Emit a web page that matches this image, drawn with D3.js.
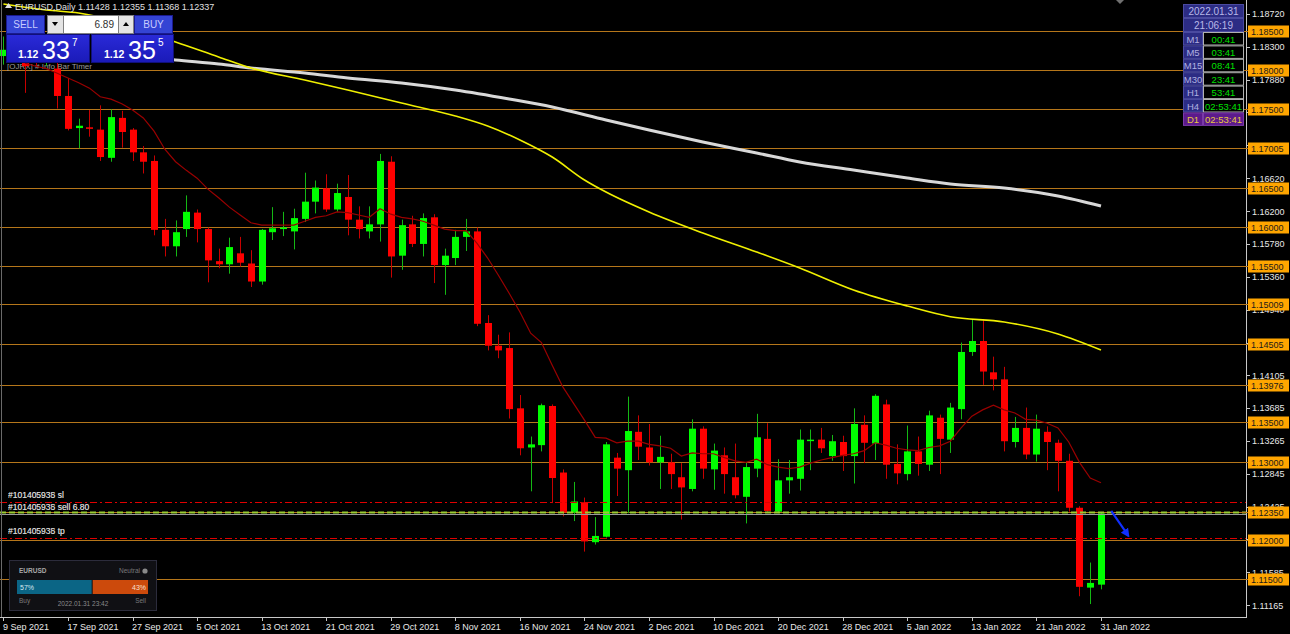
<!DOCTYPE html>
<html><head><meta charset="utf-8">
<script src="https://cdn.jsdelivr.net/npm/d3@7"></script>
<style>
body{margin:0;background:#000;overflow:hidden}
svg{display:block}
text{font-family:"Liberation Sans",Arial,sans-serif}
</style></head>
<body><svg id="c" width="1290" height="634"></svg>
<script>
const dates=["2021-09-09","2021-09-10","2021-09-13","2021-09-14","2021-09-15","2021-09-16","2021-09-17","2021-09-20","2021-09-21","2021-09-22","2021-09-23","2021-09-24","2021-09-27","2021-09-28","2021-09-29","2021-09-30","2021-10-01","2021-10-04","2021-10-05","2021-10-06","2021-10-07","2021-10-08","2021-10-11","2021-10-12","2021-10-13","2021-10-14","2021-10-15","2021-10-18","2021-10-19","2021-10-20","2021-10-21","2021-10-22","2021-10-25","2021-10-26","2021-10-27","2021-10-28","2021-10-29","2021-11-01","2021-11-02","2021-11-03","2021-11-04","2021-11-05","2021-11-08","2021-11-09","2021-11-10","2021-11-11","2021-11-12","2021-11-15","2021-11-16","2021-11-17","2021-11-18","2021-11-19","2021-11-22","2021-11-23","2021-11-24","2021-11-25","2021-11-26","2021-11-29","2021-11-30","2021-12-01","2021-12-02","2021-12-03","2021-12-06","2021-12-07","2021-12-08","2021-12-09","2021-12-10","2021-12-13","2021-12-14","2021-12-15","2021-12-16","2021-12-17","2021-12-20","2021-12-21","2021-12-22","2021-12-23","2021-12-24","2021-12-27","2021-12-28","2021-12-29","2021-12-30","2021-12-31","2022-01-03","2022-01-04","2022-01-05","2022-01-06","2022-01-07","2022-01-10","2022-01-11","2022-01-12","2022-01-13","2022-01-14","2022-01-17","2022-01-18","2022-01-19","2022-01-20","2022-01-21","2022-01-24","2022-01-25","2022-01-26","2022-01-27","2022-01-28","2022-01-31"];
const opens=[1.1818,1.1826,1.1813,1.1823,1.1812,1.1802,1.1767,1.1726,1.1727,1.1724,1.1688,1.1739,1.1724,1.1695,1.1684,1.1596,1.1575,1.1597,1.1618,1.1597,1.1556,1.1552,1.1566,1.1553,1.1530,1.1593,1.1597,1.1594,1.1610,1.1632,1.1649,1.1622,1.1638,1.1609,1.1594,1.1603,1.1683,1.1563,1.1603,1.1578,1.1612,1.1551,1.1560,1.1587,1.1594,1.1477,1.1448,1.1445,1.1368,1.1318,1.1321,1.1371,1.1286,1.1235,1.1248,1.1197,1.1204,1.1305,1.1289,1.1338,1.1318,1.1299,1.1299,1.1280,1.1265,1.1342,1.1290,1.1308,1.1280,1.1255,1.1291,1.1329,1.1236,1.1276,1.1278,1.1327,1.1328,1.1307,1.1325,1.1307,1.1347,1.1323,1.1373,1.1297,1.1284,1.1313,1.1296,1.1356,1.1328,1.1367,1.1440,1.1454,1.1414,1.1405,1.1325,1.1343,1.1309,1.1338,1.1324,1.1301,1.1241,1.1139,1.11428];
const highs=[1.1843,1.1857,1.1818,1.1846,1.1830,1.1818,1.1790,1.1738,1.1749,1.1755,1.1750,1.1748,1.1726,1.1703,1.1691,1.1610,1.1608,1.1640,1.1622,1.1599,1.1572,1.1586,1.1587,1.1570,1.1597,1.1625,1.1619,1.1623,1.1669,1.1659,1.1667,1.1655,1.1666,1.1626,1.1626,1.1693,1.1690,1.1609,1.1614,1.1617,1.1616,1.1572,1.1596,1.1610,1.1599,1.1487,1.1462,1.1465,1.1385,1.1332,1.1374,1.1373,1.1290,1.1274,1.1254,1.1229,1.1325,1.1311,1.1383,1.1359,1.1348,1.1333,1.1310,1.1298,1.1354,1.1345,1.1323,1.1318,1.1323,1.1299,1.1361,1.1349,1.1303,1.1302,1.1341,1.1341,1.1343,1.1334,1.1333,1.1368,1.1359,1.1386,1.1379,1.1322,1.1346,1.1332,1.1365,1.1360,1.1375,1.1452,1.1481,1.1482,1.1434,1.1421,1.1357,1.1369,1.1360,1.1345,1.1328,1.1310,1.1243,1.1171,1.12355];
const lows=[1.1807,1.1810,1.1771,1.1805,1.1805,1.1751,1.1723,1.1700,1.1715,1.1684,1.1683,1.1701,1.1684,1.1668,1.1589,1.1562,1.1562,1.1587,1.1580,1.1529,1.1547,1.1540,1.1549,1.1523,1.1526,1.1583,1.1588,1.1571,1.1606,1.1617,1.1619,1.1619,1.1589,1.1585,1.1585,1.1581,1.1535,1.1545,1.1574,1.1562,1.1528,1.1513,1.1551,1.1569,1.1473,1.1442,1.1432,1.1355,1.1308,1.1262,1.1313,1.1247,1.1230,1.1224,1.1185,1.1194,1.1203,1.1256,1.1234,1.1302,1.1295,1.1265,1.1265,1.1226,1.1262,1.1278,1.1264,1.1259,1.1253,1.1221,1.1280,1.1236,1.1234,1.1259,1.1263,1.1289,1.1311,1.1301,1.1288,1.1272,1.1298,1.1302,1.1278,1.1271,1.1276,1.1282,1.1288,1.1284,1.1311,1.1354,1.1435,1.1398,1.1391,1.1313,1.1318,1.1303,1.1300,1.1289,1.1262,1.1236,1.1128,1.1118,1.11368];
const closes=[1.1826,1.1813,1.1805,1.1812,1.1817,1.1767,1.1725,1.1729,1.1725,1.1689,1.1740,1.1721,1.1695,1.1683,1.1596,1.1575,1.1593,1.1619,1.1597,1.1557,1.1552,1.1574,1.1554,1.1530,1.1596,1.1598,1.1599,1.1611,1.1632,1.1650,1.1622,1.1643,1.1609,1.1597,1.1603,1.1684,1.1562,1.1602,1.1578,1.1611,1.1551,1.1563,1.1587,1.1594,1.1476,1.1448,1.1442,1.1367,1.1317,1.1322,1.1372,1.1279,1.1235,1.1249,1.1198,1.1205,1.1322,1.1291,1.1339,1.1319,1.1299,1.1306,1.1284,1.1267,1.1342,1.1291,1.1314,1.1284,1.1257,1.1293,1.1331,1.1237,1.1276,1.1280,1.1328,1.1328,1.1317,1.1326,1.1307,1.1348,1.1324,1.1384,1.1296,1.1285,1.1313,1.1297,1.1359,1.1329,1.1369,1.1440,1.1454,1.1415,1.1405,1.1326,1.1343,1.1309,1.1342,1.1325,1.1301,1.1241,1.1140,1.1145,1.12337];

// fast moving average (dark red), read per bar starting at bar 2
const maFastStart=2;
const maFast=[1.1809,1.1805,1.1802,1.1796,1.1790,1.1784,1.1777,1.1766,1.1763,1.1757,1.1749,1.1739,1.1722,1.1699,1.1683,1.1672,1.1662,1.1648,1.1637,1.1625,1.1615,1.1605,1.1602,1.1602,1.1602,1.1602,1.1607,1.1612,1.1614,1.1619,1.1618,1.1615,1.1612,1.1623,1.1616,1.1612,1.1610,1.1607,1.1602,1.1597,1.1595,1.1595,1.1579,1.1560,1.1538,1.1515,1.1491,1.1464,1.1452,1.1423,1.1395,1.1374,1.1353,1.1331,1.1330,1.1324,1.1326,1.1326,1.1322,1.1320,1.1317,1.1307,1.1311,1.1310,1.1310,1.1305,1.1301,1.1299,1.1303,1.1296,1.1293,1.1291,1.1293,1.1298,1.1302,1.1305,1.1308,1.1310,1.1314,1.1324,1.1321,1.1317,1.1315,1.1314,1.1318,1.1320,1.1326,1.1343,1.1358,1.1366,1.1372,1.1366,1.1362,1.1354,1.1353,1.1349,1.1343,1.1325,1.1299,1.1279,1.1273];
// medium moving average (yellow), read at sample bars
const maMidBars=[0,4,7,16,20,23,28,32,37,42,45,48,51,54,56,60,65,70,74,79,84,88,93,98,102];
const maMid=[1.18845,1.18768,1.18730,1.18359,1.18168,1.18027,1.17874,1.17746,1.17580,1.17414,1.17286,1.17108,1.16890,1.16597,1.16443,1.16188,1.15920,1.15677,1.15473,1.15192,1.14987,1.14850,1.14783,1.14630,1.14425];
// slow moving average (light grey), read at sample bars
const maSlowBars=[14,16,20,23,28,32,37,42,47,51,56,60,65,70,74,79,84,88,93,98,102];
const maSlow=[1.1816,1.18130,1.18078,1.18027,1.17963,1.17900,1.17836,1.17746,1.17631,1.17529,1.17363,1.17235,1.17082,1.16942,1.16827,1.16724,1.16622,1.16546,1.16494,1.16392,1.16265];

const levels=[1.185,1.18,1.175,1.17005,1.165,1.16,1.155,1.15009,1.14505,1.13976,1.135,1.13,1.1235,1.12,1.115];
const levelLabels=["1.18500","1.18000","1.17500","1.17005","1.16500","1.16000","1.15500","1.15009","1.14505","1.13976","1.13500","1.13000","1.12350","1.12000","1.11500"];
const priceTicks=[1.1872,1.183,1.1788,1.1746,1.1704,1.1662,1.162,1.1578,1.1536,1.1494,1.1452,1.14105,1.13685,1.13265,1.12845,1.12425,1.12005,1.11585,1.11165];
const priceTickLabels=["1.18720","1.18300","1.17880","1.17460","1.17040","1.16620","1.16200","1.15780","1.15360","1.14940","1.14520","1.14105","1.13685","1.13265","1.12845","1.12425","1.12005","1.11585","1.11165"];
const dateTicks=["2021-09-09","2021-09-17","2021-09-27","2021-10-05","2021-10-13","2021-10-21","2021-10-29","2021-11-08","2021-11-16","2021-11-24","2021-12-02","2021-12-10","2021-12-20","2021-12-28","2022-01-05","2022-01-13","2022-01-21","2022-01-31"];
const dateTickLabels=["9 Sep 2021","17 Sep 2021","27 Sep 2021","5 Oct 2021","13 Oct 2021","21 Oct 2021","29 Oct 2021","8 Nov 2021","16 Nov 2021","24 Nov 2021","2 Dec 2021","10 Dec 2021","20 Dec 2021","28 Dec 2021","5 Jan 2022","13 Jan 2022","21 Jan 2022","31 Jan 2022"];

const orderSL=1.1248, orderEntry=1.1235, orderTP=1.1203, bidPrice=1.12337;
const arrowBars=[102.95,104.55], arrowPrices=[1.1237,1.1205];
const sentimentPct=[57,43];
const clockRows=["M1","M5","M15","M30","H1","H4","D1"];
const clockVals=["00:41","03:41","08:41","23:41","53:41","02:53:41","02:53:41"];

const plotR=1246, plotB=617;
const svg=d3.select("#c");
svg.append("rect").attr("width",1290).attr("height",634).attr("fill","#000");
const x=d3.scaleLinear().domain([0,dates.length-1]).range([3.4,1101]);
const y=d3.scaleLinear().domain([1.115,1.185]).range([579,31]);
const bi=d=>dates.indexOf(d);

svg.append("clipPath").attr("id","clip").append("rect").attr("x",0).attr("y",0).attr("width",plotR).attr("height",plotB);
const plot=svg.append("g").attr("clip-path","url(#clip)");

// level lines
plot.selectAll("line.lv").data(levels).join("line").attr("class","lv")
  .attr("x1",0).attr("x2",plotR).attr("y1",d=>Math.round(y(d))+0.5).attr("y2",d=>Math.round(y(d))+0.5)
  .attr("stroke","#b5761a").attr("stroke-width",1);

// info text
plot.append("text").attr("x",7).attr("y",69).attr("fill","#9a9a9a").attr("font-size",8).text("[OJRX] # Info Bar Timer");

// candles
const idx=d3.range(dates.length);
const bw=x(1)-x(0);
const bodyW=Math.round(bw*0.66);
const cg=plot.append("g");
cg.selectAll("line.w").data(idx).join("line")
  .attr("x1",i=>Math.round(x(i))+0.5).attr("x2",i=>Math.round(x(i))+0.5)
  .attr("y1",i=>y(highs[i])).attr("y2",i=>y(lows[i]))
  .attr("stroke",i=>closes[i]>=opens[i]?"#14b814":"#c80000").attr("stroke-width",1);
cg.selectAll("rect.b").data(idx).join("rect")
  .attr("x",i=>Math.round(x(i))-Math.floor(bodyW/2)).attr("width",bodyW)
  .attr("y",i=>y(Math.max(opens[i],closes[i])))
  .attr("height",i=>Math.max(1.5,Math.abs(y(opens[i])-y(closes[i]))))
  .attr("fill",i=>closes[i]>=opens[i]?"#00ff00":"#ff0000");

// moving averages
const lineF=d3.line().x(d=>x(d[0])).y(d=>y(d[1]));
plot.append("path").datum(maSlow.map((v,k)=>[maSlowBars[k],v]))
  .attr("d",lineF.curve(d3.curveMonotoneX)).attr("fill","none").attr("stroke","#d8d8d8").attr("stroke-width",3);
plot.append("path").datum(maMid.map((v,k)=>[maMidBars[k],v]))
  .attr("d",lineF.curve(d3.curveMonotoneX)).attr("fill","none").attr("stroke","#f0f000").attr("stroke-width",1.6);
plot.append("path").datum(maFast.map((v,k)=>[k+maFastStart,v]))
  .attr("d",d3.line().x(d=>x(d[0])).y(d=>y(d[1]))).attr("fill","none").attr("stroke","#9a0000").attr("stroke-width",1.2);

// order lines
const yl=v=>Math.round(y(v))+0.5;
plot.append("line").attr("x1",0).attr("x2",plotR).attr("y1",yl(orderSL)).attr("y2",yl(orderSL))
  .attr("stroke","#e00000").attr("stroke-dasharray","7,3,2,3");
plot.append("line").attr("x1",0).attr("x2",plotR).attr("y1",yl(orderTP)).attr("y2",yl(orderTP))
  .attr("stroke","#e00000").attr("stroke-dasharray","7,3,2,3");
plot.append("line").attr("x1",0).attr("x2",plotR).attr("y1",yl(bidPrice)+1).attr("y2",yl(bidPrice)+1)
  .attr("stroke","#9a9a9a").attr("stroke-width",1);
plot.append("line").attr("x1",0).attr("x2",plotR).attr("y1",yl(orderEntry)).attr("y2",yl(orderEntry))
  .attr("stroke","#9acd32").attr("stroke-width",2).attr("stroke-dasharray","6,3");
const olab=[[orderSL,"sl",-4],[orderEntry,"sell 6.80",-2],[orderTP,"tp",-4]];
olab.forEach(o=>{
  ["#101405935 ","#101405938 "].forEach(pre=>{
    plot.append("text").attr("x",8).attr("y",y(o[0])+o[2]).attr("fill","#e0e0e0").attr("font-size",8.5).attr("opacity",0.8).text(pre+o[1]);
  });
});

// blue arrow
svg.append("defs").append("marker").attr("id","ah").attr("viewBox","0 0 10 10").attr("refX",8).attr("refY",5)
  .attr("markerWidth",4).attr("markerHeight",4).attr("orient","auto")
  .append("path").attr("d","M0,0L10,5L0,10z").attr("fill","#1030ff");
plot.append("line").attr("x1",x(arrowBars[0])).attr("y1",y(arrowPrices[0])).attr("x2",x(arrowBars[1])).attr("y2",y(arrowPrices[1]))
  .attr("stroke","#1030ff").attr("stroke-width",2.2).attr("marker-end","url(#ah)");

// small shift triangle
svg.append("path").attr("d","M1116,0L1124,0L1120,4Z").attr("fill","#707070");

// axes frames
svg.append("line").attr("x1",plotR+0.5).attr("x2",plotR+0.5).attr("y1",0).attr("y2",plotB).attr("stroke","#c8c8c8");
svg.append("line").attr("x1",0).attr("x2",plotR+1).attr("y1",plotB+0.5).attr("y2",plotB+0.5).attr("stroke","#c8c8c8");
svg.append("line").attr("x1",1.5).attr("x2",1.5).attr("y1",0).attr("y2",plotB).attr("stroke","#6a6a6a");

// price axis (labels fully covered by a level box are not drawn)
const covered=v=>levels.some(l=>Math.abs(y(l)-y(v))<3.5);
const ax=svg.append("g");
ax.selectAll("line").data(priceTicks).join("line").attr("x1",plotR).attr("x2",plotR+4)
  .attr("y1",d=>yl(d)).attr("y2",d=>yl(d)).attr("stroke","#c8c8c8");
ax.selectAll("text").data(priceTicks.map((v,i)=>[v,priceTickLabels[i]]).filter(d=>!covered(d[0]))).join("text")
  .attr("x",plotR+6).attr("y",d=>y(d[0])+3.5)
  .attr("fill","#e8e8e8").attr("font-size",9).text(d=>d[1]);
// level labels
const lg=svg.append("g");
lg.selectAll("line").data(levels).join("line").attr("x1",plotR-6).attr("x2",plotR+2)
  .attr("y1",d=>yl(d)).attr("y2",d=>yl(d)).attr("stroke","#b5761a");
lg.selectAll("rect").data(levels).join("rect").attr("x",plotR+2).attr("width",41).attr("y",d=>Math.round(y(d))-5.5).attr("height",12)
  .attr("fill","#ffa500");
lg.selectAll("text").data(levels).join("text").attr("x",plotR+5).attr("y",d=>Math.round(y(d))+4)
  .attr("fill","#1a1a1a").attr("font-size",9).text((d,i)=>levelLabels[i]);

// date axis
const dx=svg.append("g");
dx.selectAll("line").data(dateTicks).join("line").attr("x1",d=>Math.round(x(bi(d)))+0.5).attr("x2",d=>Math.round(x(bi(d)))+0.5)
  .attr("y1",plotB).attr("y2",plotB+4).attr("stroke","#c8c8c8");
dx.selectAll("text").data(dateTicks).join("text").attr("x",d=>x(bi(d))-0.5).attr("y",plotB+13)
  .attr("fill","#e8e8e8").attr("font-size",9).text((d,i)=>dateTickLabels[i]);

// title
svg.append("path").attr("d","M5,8L8.5,3L12,8Z").attr("fill","#e0e0e0");
svg.append("text").attr("x",15).attr("y",10).attr("fill","#e0e0e0").attr("font-size",9)
  .text("EURUSD,Daily  1.11428 1.12355 1.11368 1.12337");

// trade panel
const tp=svg.append("g");
function btn(x0,y0,w,h,fill,stroke){return tp.append("rect").attr("x",x0).attr("y",y0).attr("width",w).attr("height",h).attr("fill",fill).attr("stroke",stroke);}
btn(6.5,15.5,38,18,"#3444d4","#1a1a90");
btn(134.5,15.5,38,18,"#3444d4","#1a1a90");
btn(47.5,15.5,16,18,"#e4e4e4","#808080");
btn(63.5,15.5,55,18,"#ffffff","#808080");
btn(118.5,15.5,15,18,"#e4e4e4","#808080");
tp.append("path").attr("d","M52,22L58,22L55,26Z").attr("fill","#000");
tp.append("path").attr("d","M123,26L129,26L126,22Z").attr("fill","#000");
tp.append("text").attr("x",25.5).attr("y",28).attr("text-anchor","middle").attr("fill","#c8ccff").attr("font-size",10).text("SELL");
tp.append("text").attr("x",153.5).attr("y",28).attr("text-anchor","middle").attr("fill","#c8ccff").attr("font-size",10).text("BUY");
tp.append("text").attr("x",114).attr("y",28).attr("text-anchor","end").attr("fill","#303030").attr("font-size",10).text("6.89");
const grad=svg.select("defs").append("linearGradient").attr("id","pg").attr("x1",0).attr("x2",0).attr("y1",0).attr("y2",1);
grad.append("stop").attr("offset","0").attr("stop-color","#2a2ad8");
grad.append("stop").attr("offset","1").attr("stop-color","#1a1ab8");
btn(6.5,34.5,83,28,"url(#pg)","#10107a");
btn(91.5,34.5,82,28,"url(#pg)","#10107a");
[[18,"1.12","33","7"],[104,"1.12","35","5"]].forEach(p=>{
  tp.append("text").attr("x",p[0]).attr("y",58).attr("fill","#fff").attr("font-size",10.5).attr("font-weight","bold").text(p[1]);
  tp.append("text").attr("x",p[0]+24).attr("y",59).attr("fill","#fff").attr("font-size",25).text(p[2]);
  tp.append("text").attr("x",p[0]+54).attr("y",46).attr("fill","#fff").attr("font-size",10).text(p[3]);
});

// clock panel
const cp=svg.append("g");
[["2022.01.31",4],["21:06:19",18]].forEach(r=>{
  cp.append("rect").attr("x",1183.5).attr("y",r[1]+0.5).attr("width",60).attr("height",13).attr("fill","#2c2c84").attr("stroke","#4a4aa0");
  cp.append("text").attr("x",1213.5).attr("y",r[1]+11).attr("text-anchor","middle").attr("fill","#b8b8e8").attr("font-size",10).text(r[0]);
});
clockRows.forEach((lab,k)=>{
  const yy=32+k*13.4, d1=lab==="D1";
  cp.append("rect").attr("x",1183.5).attr("y",yy+0.5).attr("width",19).attr("height",12.5).attr("fill",d1?"#5c1a8c":"#2c2c84").attr("stroke",d1?"#7a3aa8":"#4a4aa0");
  cp.append("rect").attr("x",1203.5).attr("y",yy+0.5).attr("width",40).attr("height",12.5).attr("fill",d1?"#5c1a8c":"#000").attr("stroke",d1?"#7a3aa8":"#b0b0b0");
  cp.append("text").attr("x",1193).attr("y",yy+10.5).attr("text-anchor","middle").attr("fill",d1?"#e8c840":"#b0b0e0").attr("font-size",9.5).text(lab);
  cp.append("text").attr("x",1223.5).attr("y",yy+10.5).attr("text-anchor","middle").attr("fill",d1?"#e8c840":"#00e000").attr("font-size",9.5).text(clockVals[k]);
});

// sentiment widget
const sw=svg.append("g");
sw.append("rect").attr("x",9.5).attr("y",560.5).attr("width",147).attr("height",50).attr("fill","#101014").attr("stroke","#2c2c3c");
sw.append("text").attr("x",19).attr("y",573).attr("fill","#a8a8a8").attr("font-size",6.5).attr("font-weight","bold").text("EURUSD");
sw.append("text").attr("x",140).attr("y",573).attr("text-anchor","end").attr("fill","#7a7a7a").attr("font-size",6.5).text("Neutral");
sw.append("circle").attr("cx",145).attr("cy",571).attr("r",2.6).attr("fill","#8a8a8a");
const ps=d3.scaleLinear().domain([0,100]).range([0,131]);
sw.append("rect").attr("x",17).attr("y",580).attr("width",ps(sentimentPct[0])).attr("height",14).attr("fill","#0b6585");
sw.append("rect").attr("x",17+ps(sentimentPct[0])+1).attr("y",580).attr("width",ps(sentimentPct[1])-1).attr("height",14).attr("fill","#cc4a0c");
sw.append("text").attr("x",20).attr("y",590).attr("fill","#d8e8f0").attr("font-size",7).text(sentimentPct[0]+"%");
sw.append("text").attr("x",146).attr("y",590).attr("text-anchor","end").attr("fill","#f8e0d0").attr("font-size",7).text(sentimentPct[1]+"%");
sw.append("text").attr("x",19).attr("y",603).attr("fill","#7a7a7a").attr("font-size",6.5).text("Buy");
sw.append("text").attr("x",146).attr("y",603).attr("text-anchor","end").attr("fill","#7a7a7a").attr("font-size",6.5).text("Sell");
sw.append("text").attr("x",83).attr("y",606).attr("text-anchor","middle").attr("fill","#8a8a8a").attr("font-size",6.5).text("2022.01.31 23:42");
</script></body></html>
